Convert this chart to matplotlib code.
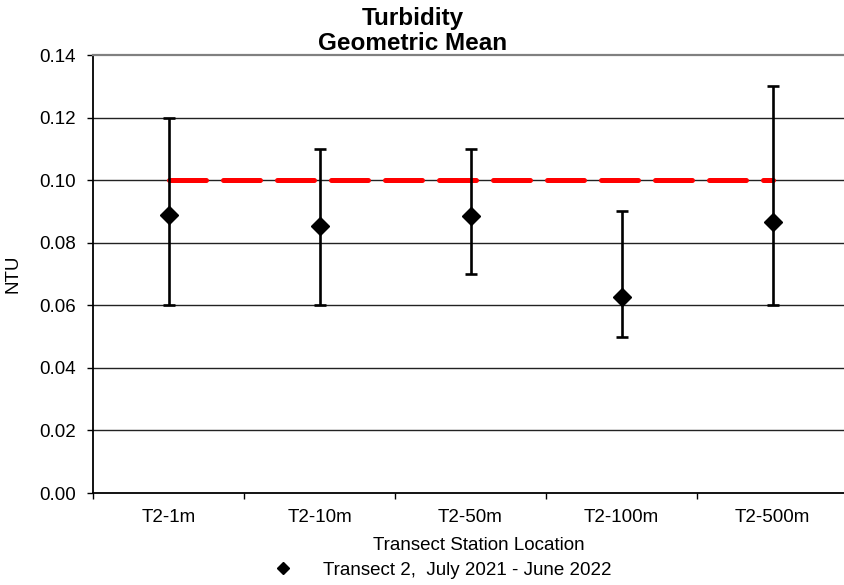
import numpy as np
import matplotlib.pyplot as plt

plt.rcParams['font.family'] = ['Liberation Sans', 'DejaVu Sans']

stations = ["T2-1m", "T2-10m", "T2-50m", "T2-100m", "T2-500m"]
geo_mean = [0.0890, 0.0855, 0.0885, 0.0628, 0.0866]
err_low = [0.06, 0.06, 0.07, 0.05, 0.06]
err_high = [0.12, 0.11, 0.11, 0.09, 0.13]
standard = 0.10
y_ticks = [0.00, 0.02, 0.04, 0.06, 0.08, 0.10, 0.12, 0.14]

W, H = 845, 585
fs = 13.5

fig = plt.figure(figsize=(W / 100, H / 100), dpi=100)
ax = fig.add_axes([93 / W, 1 - 493 / H, 755 / W, 438 / H])

x = np.arange(len(stations))
gm = np.array(geo_mean)
yerr = [gm - np.array(err_low), np.array(err_high) - gm]

# horizontal grid
for t in y_ticks[1:-1]:
    ax.axhline(t, color="#222222", lw=1.0, zorder=0)

# standard line
ax.plot([x[0], x[-1]], [standard, standard], color="red", lw=3.6,
        dashes=(7.4, 3.4), dash_capstyle="round", zorder=2)

ax.errorbar(x, gm, yerr=yerr, fmt="none", ecolor="black", elinewidth=1.9,
            capsize=4, capthick=1.9, zorder=3)
ax.plot(x, gm, linestyle="none", marker="D", markersize=9.5, color="black",
        zorder=4, label="Transect 2,  July 2021 - June 2022")

ax.set_xlim(-0.5, 4.5)
ax.set_ylim(0, 0.14)
ax.set_yticks(y_ticks)
ax.set_yticklabels([f"{t:.2f}" for t in y_ticks])
ax.set_xticks(np.arange(-0.5, 4.6, 1.0))
ax.set_xticklabels([])
ax.set_xticks(x, minor=True)
ax.set_xticklabels(stations, minor=True)
ax.tick_params(axis="x", which="minor", length=0, pad=11.5, labelsize=fs)
ax.tick_params(axis="x", which="major", length=4, direction="out", width=1.0)
ax.tick_params(axis="y", length=4.5, direction="out", width=1.0, pad=7.9,
               labelsize=fs)

ax.spines["right"].set_visible(False)
ax.spines["top"].set_color("gray")
ax.spines["top"].set_linewidth(1.6)
ax.spines["left"].set_linewidth(1.3)
ax.spines["bottom"].set_linewidth(1.3)

# title
fig.text(413 / W, 1 - 25 / H, "Turbidity", ha="center", va="baseline",
         fontsize=17.5, fontweight="bold")
fig.text(413 / W, 1 - 50 / H, "Geometric Mean", ha="center", va="baseline",
         fontsize=17.5, fontweight="bold")

ax.set_ylabel("NTU", fontsize=fs)
ax.yaxis.set_label_coords((22 - 93) / 755, 0.5)
ax.set_xlabel("Transect Station Location", fontsize=fs)
ax.xaxis.set_label_coords((479 - 93) / 755, (493 - 537) / 438)

fig.legend(*ax.get_legend_handles_labels(), loc="center left",
           bbox_to_anchor=(274 / W, 1 - 570 / H), frameon=False, fontsize=fs,
           handlelength=1.0, markerscale=0.6, handletextpad=1.61,
           borderpad=0, borderaxespad=0)

fig.savefig("out.png", dpi=100)
